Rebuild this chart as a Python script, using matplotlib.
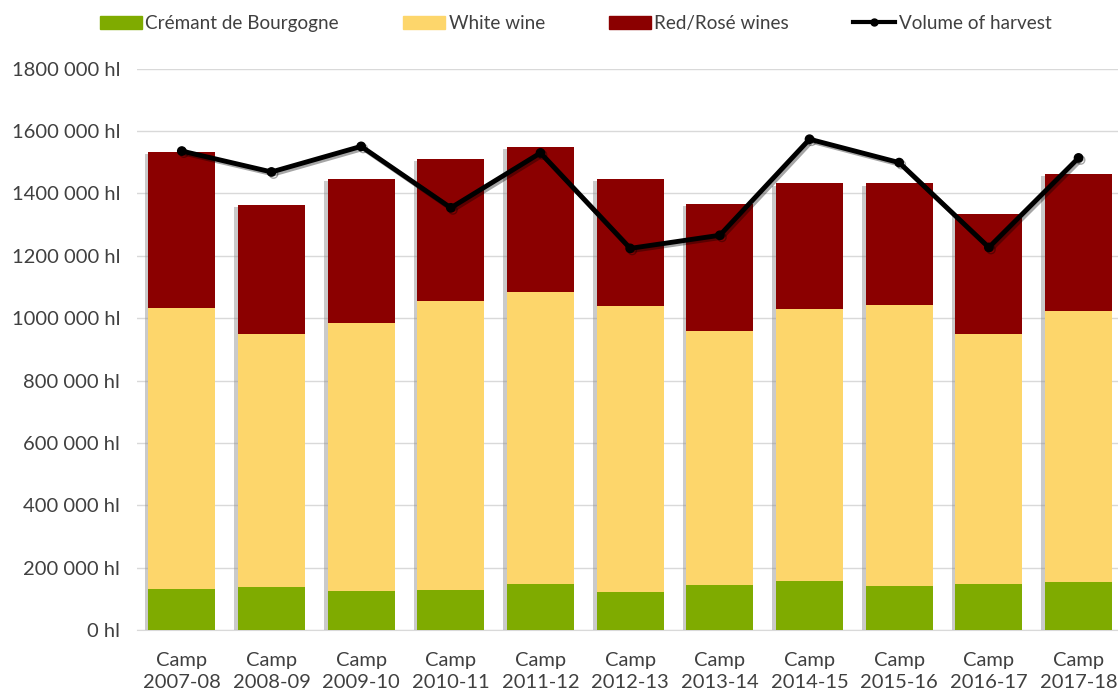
import matplotlib.pyplot as plt
import matplotlib.patheffects as pe
from matplotlib.lines import Line2D
from matplotlib.patches import Patch
import numpy as np

# === DATA (hl) ===
campaigns = ["2007-08", "2008-09", "2009-10", "2010-11", "2011-12", "2012-13",
             "2013-14", "2014-15", "2015-16", "2016-17", "2017-18"]
cremant = [131000, 139000, 126000, 130000, 148000, 123000,
           144000, 159000, 143000, 148000, 155000]
white_top = [1034000, 951000, 986000, 1056000, 1084000, 1040000,
             958000, 1030000, 1043000, 950000, 1023000]
red_top = [1532000, 1364000, 1447000, 1512000, 1549000, 1447000,
           1367000, 1432000, 1432000, 1335000, 1464000]
harvest = [1536000, 1469000, 1551000, 1354000, 1530000, 1224000,
           1266000, 1574000, 1499000, 1227000, 1514000]

white = [w - c for w, c in zip(white_top, cremant)]
red = [r - w for r, w in zip(red_top, white_top)]
yticks = list(range(0, 1800001, 200000))

# === STYLE ===
GREEN = "#7FAB00"
YELLOW = "#FDD66B"
RED = "#8B0000"
TEXT = "#404040"
plt.rcParams["font.family"] = ["Lato", "DejaVu Sans"]

fig = plt.figure(figsize=(11.18, 6.94), dpi=100)
ax = fig.add_axes([0.1225, 0.092, 0.8775, 0.809])

x = np.arange(len(campaigns))
bw = 0.75
# soft shadow behind the whole stack
stack = ax.bar(x, red_top, bw, color=RED, zorder=2)
for p in stack:
    p.set_path_effects([pe.SimplePatchShadow(offset=(-2.5, -1.5), shadow_rgbFace="#8a8a8a", alpha=0.45),
                        pe.Normal()])
ax.bar(x, cremant, bw, color=GREEN, zorder=3)
ax.bar(x, white, bw, bottom=cremant, color=YELLOW, zorder=3)
ax.bar(x, red, bw, bottom=white_top, color=RED, zorder=3)

ax.plot(x, harvest, color="black", lw=3.5, marker="o", ms=6, zorder=5,
        path_effects=[pe.SimpleLineShadow(offset=(1.5, -1.5), alpha=0.35), pe.Normal()])

ax.set_xlim(-0.5, 10.44)
ax.set_ylim(0, 1800000)
ax.set_yticks(yticks)
ax.set_yticklabels(["0 hl" if v == 0 else f"{v // 1000} 000 hl" for v in yticks])
ax.set_xticks(x)
ax.set_xticklabels([f"Camp\n{c}" for c in campaigns], linespacing=1.35)
ax.tick_params(axis="both", length=0, labelsize=14.5, colors=TEXT)
ax.tick_params(axis="x", pad=16)
ax.tick_params(axis="y", pad=12)
ax.grid(axis="y", color="#D9D9D9", lw=1, zorder=0)
for s in ("top", "right", "left"):
    ax.spines[s].set_visible(False)
ax.spines["bottom"].set_color("#D9D9D9")

handles = [Patch(color=GREEN), Patch(color=YELLOW), Patch(color=RED),
           Line2D([], [], color="black", lw=3, marker="o", ms=5)]
labels = ["Crémant de Bourgogne", "White wine", "Red/Rosé wines", "Volume of harvest"]
leg = fig.legend(handles, labels, loc="center", bbox_to_anchor=(0.515, 0.966), ncol=4,
                 frameon=False, fontsize=13.6, handlelength=2.2, handleheight=0.7,
                 handletextpad=0.2, columnspacing=3.4)
for t in leg.get_texts():
    t.set_color(TEXT)

plt.savefig("out.png", dpi=100)
